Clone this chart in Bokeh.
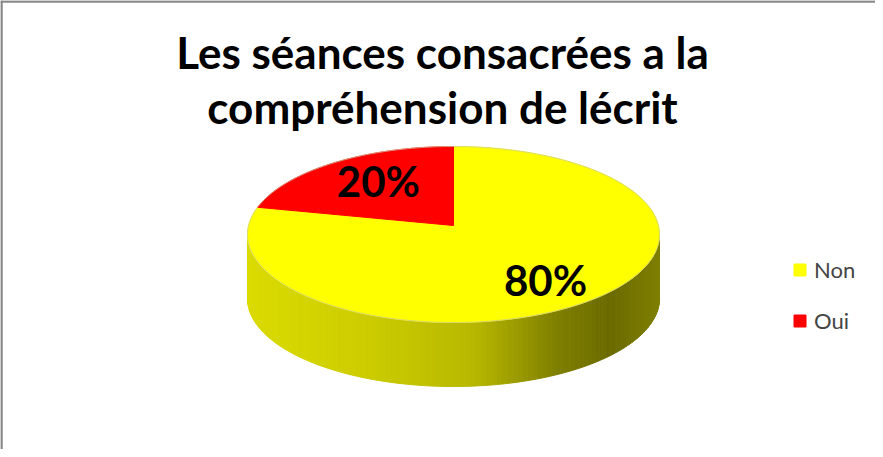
import numpy as np
from bokeh.plotting import figure
from bokeh.models import Range1d, Span, Label, Legend, LegendItem
from bokeh.core.properties import value
from bokeh.embed import file_html
from bokeh.resources import INLINE

# ---- data ----
categories = ["Non", "Oui"]
values = [80, 20]
slice_colors = ["#ffff00", "#ff0000"]
pct_labels = ["80%", "20%"]
title_lines = ["Les séances consacrées a la", "compréhension de lécrit"]

# ---- layout (screen-like data coords: y grows downward) ----
CX, CY = 461.0, 242.0   # centre of top ellipse
A, B = 206.0, 88.0      # semi-axes
DEPTH = 64.0
FONT = "Lato"
label_r = [0.76, 0.62]

p = figure(width=875, height=449, x_range=Range1d(8, 883), y_range=Range1d(457, 8),
           output_backend="svg", toolbar_location=None, tools="",
           x_axis_location=None, y_axis_location=None, min_border=0,
           outline_line_color=None)
p.grid.visible = False
p.background_fill_color = "white"
p.border_fill_color = "white"

# chart border (top and left visible in reference)
p.add_layout(Span(location=9, dimension="width", line_color="#888888", line_width=2.5))
p.add_layout(Span(location=9, dimension="height", line_color="#888888", line_width=2.5))

# ---- side of the 3D pie (front half, shaded strips) ----
N = 120
t = np.linspace(0, np.pi, N + 1)
px = CX + A * np.cos(t)
py = CY + B * np.sin(t)
xs, ys, cols = [], [], []
for i in range(N):
    xs.append([px[i], px[i + 1], px[i + 1], px[i]])
    ys.append([py[i], py[i + 1], py[i + 1] + DEPTH, py[i] + DEPTH])
    u = ((px[i] + px[i + 1]) / 2 - (CX - A)) / (2 * A)
    br = np.interp(u, [0.0, 0.3, 0.55, 0.75, 0.88, 1.0], [0.86, 0.80, 0.72, 0.50, 0.42, 0.50])
    c = int(255 * br)
    cols.append("#%02x%02x00" % (c, c))
p.patches(xs, ys, fill_color=cols, line_color=cols, line_width=1)

# ---- top slices (start at 12 o'clock, clockwise) ----
total = float(sum(values))
start = 0.0
renderers = []
label_pos = []
for cat, v, col, lr in zip(categories, values, slice_colors, label_r):
    sweep = 2 * np.pi * v / total
    phi = np.linspace(start, start + sweep, 200)
    sx = np.concatenate([[CX], CX + A * np.sin(phi), [CX]])
    sy = np.concatenate([[CY - 9], CY - B * np.cos(phi), [CY - 9]])
    r = p.patch(sx, sy, fill_color=col, line_color=col, line_width=1)
    renderers.append(r)
    mid = start + sweep / 2
    label_pos.append((CX + lr * A * np.sin(mid), CY - 9 - lr * B * np.cos(mid)))
    start += sweep

# rim outline
phi = np.linspace(0, 2 * np.pi, 400)
p.line(CX + A * np.sin(phi), CY - B * np.cos(phi), line_color="#c9c9a0", line_width=1, line_alpha=0.7)

# percentage labels
p.text(x=[lp[0] for lp in label_pos], y=[lp[1] for lp in label_pos], text=pct_labels,
       text_align="center", text_baseline="middle", text_font=value(FONT),
       text_font_style="bold", text_font_size="42px", text_color="black")

# ---- title ----
for i, line in enumerate(title_lines):
    p.add_layout(Label(x=450, y=59 + 55 * i, text=line, text_align="center",
                       text_baseline="alphabetic", text_font=FONT, text_font_style="bold",
                       text_font_size="44px", text_color="black"))

# ---- legend ----
legend = Legend(items=[LegendItem(label=c, renderers=[r]) for c, r in zip(categories, renderers)],
                location=(792, 115), orientation="vertical",
                glyph_width=15, glyph_height=15, label_standoff=7,
                label_text_font=FONT, label_text_font_size="22px", label_height=25,
                spacing=24, padding=0, margin=0,
                border_line_color=None, background_fill_alpha=0)
p.add_layout(legend)

open("out.html", "w").write(file_html(p, INLINE))
